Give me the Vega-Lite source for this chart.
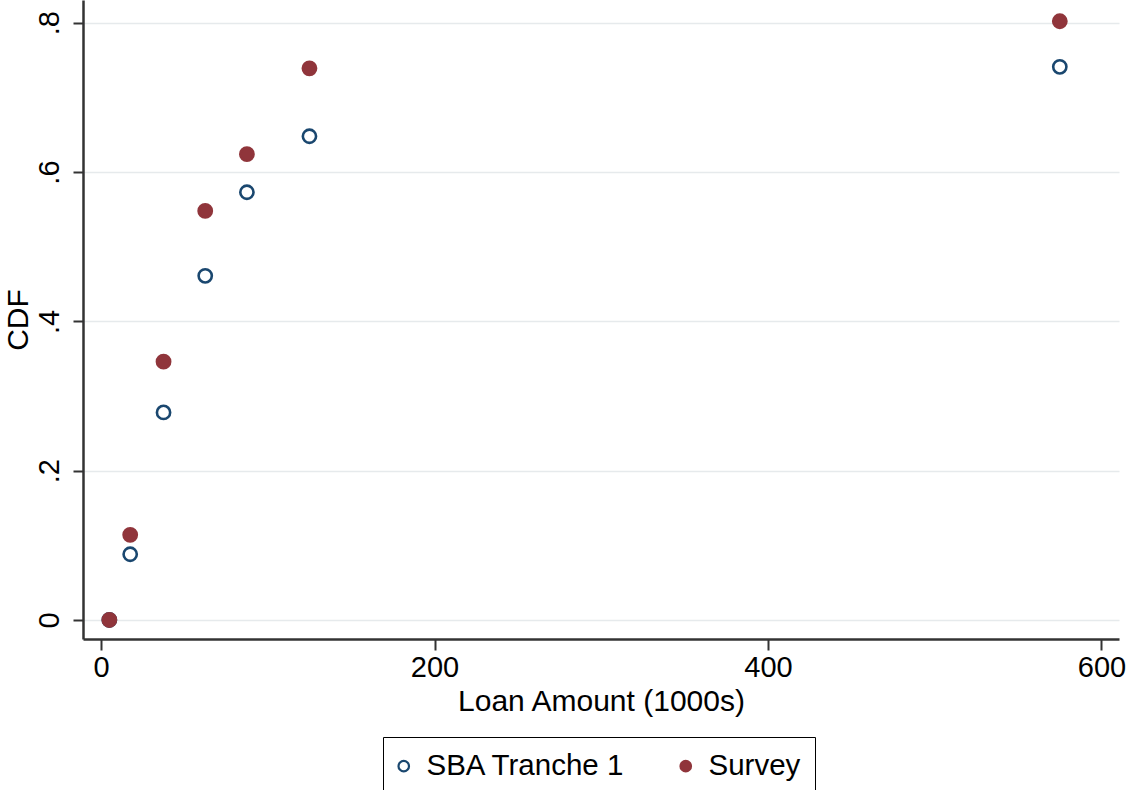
{
  "$schema": "https://vega.github.io/schema/vega-lite/v6.json",
  "autosize": "none",
  "width": 1036,
  "height": 639,
  "padding": {"left": 83, "top": 0, "right": 7, "bottom": 151},
  "background": "white",
  "config": {
    "font": "Liberation Sans",
    "view": {"stroke": null},
    "axis": {"labelFont": "Liberation Sans", "titleFont": "Liberation Sans", "labelColor": "black", "titleColor": "black", "titleFontWeight": "normal"}
  },
  "data": {
    "values": [
      {"loan": 5, "cdf": 0.0, "series": "SBA Tranche 1"},
      {"loan": 17.5, "cdf": 0.088, "series": "SBA Tranche 1"},
      {"loan": 37.5, "cdf": 0.278, "series": "SBA Tranche 1"},
      {"loan": 62.5, "cdf": 0.461, "series": "SBA Tranche 1"},
      {"loan": 87.5, "cdf": 0.573, "series": "SBA Tranche 1"},
      {"loan": 125, "cdf": 0.648, "series": "SBA Tranche 1"},
      {"loan": 575, "cdf": 0.741, "series": "SBA Tranche 1"},
      {"loan": 5, "cdf": 0.0, "series": "Survey"},
      {"loan": 17.5, "cdf": 0.114, "series": "Survey"},
      {"loan": 37.5, "cdf": 0.346, "series": "Survey"},
      {"loan": 62.5, "cdf": 0.548, "series": "Survey"},
      {"loan": 87.5, "cdf": 0.624, "series": "Survey"},
      {"loan": 125, "cdf": 0.739, "series": "Survey"},
      {"loan": 575, "cdf": 0.802, "series": "Survey"}
    ]
  },
  "mark": {"type": "point", "shape": "circle", "size": 175, "strokeWidth": 2.6, "opacity": 1},
  "encoding": {
    "x": {
      "field": "loan", "type": "quantitative",
      "scale": {"domain": [-10.8, 610.5], "nice": false, "zero": false},
      "axis": {
        "values": [0, 200, 400, 600], "grid": false,
        "title": "Loan Amount (1000s)", "titleFontSize": 30, "titlePadding": 4,
        "labelFontSize": 29, "labelPadding": 3, "labelAngle": 0,
        "tickSize": 11, "tickWidth": 2, "tickColor": "#333333",
        "domainColor": "#333333", "domainWidth": 2.5
      }
    },
    "y": {
      "field": "cdf", "type": "quantitative",
      "scale": {"domain": [-0.0255, 0.8305], "nice": false, "zero": false},
      "axis": {
        "values": [0, 0.2, 0.4, 0.6, 0.8], "grid": true,
        "gridColor": "#e6eaec", "gridWidth": 1.5,
        "title": "CDF", "titleFontSize": 30, "titlePadding": 2,
        "labelFontSize": 29, "labelPadding": 9, "labelAngle": -90, "labelAlign": "center", "labelBaseline": "bottom",
        "labelExpr": "datum.value == 0 ? '0' : replace(format(datum.value, '.1f'), '0.', '.')",
        "tickSize": 10, "tickWidth": 2, "tickColor": "#333333",
        "domainColor": "#333333", "domainWidth": 2.5
      }
    },
    "stroke": {
      "field": "series", "type": "nominal",
      "scale": {"domain": ["SBA Tranche 1", "Survey"], "range": ["#1a476f", "#90353b"]},
      "legend": null
    },
    "fill": {
      "field": "series", "type": "nominal",
      "scale": {"domain": ["SBA Tranche 1", "Survey"], "range": ["transparent", "#90353b"]},
      "legend": {
        "title": null, "orient": "none", "legendX": 300, "legendY": 737,
        "direction": "horizontal",
        "labelFontSize": 29.5, "labelFont": "Liberation Sans", "labelColor": "black",
        "symbolSize": 110, "symbolStrokeWidth": 2.2, "symbolType": "circle", "symbolOffset": -8,
        "symbolStrokeColor": {"expr": "datum.value == 'Survey' ? '#90353b' : '#1a476f'"},
        "labelOffset": 8, "columnPadding": 50,
        "padding": 14, "strokeColor": "black", "fillColor": "white",
        "labelLimit": 400
      }
    }
  }
}
